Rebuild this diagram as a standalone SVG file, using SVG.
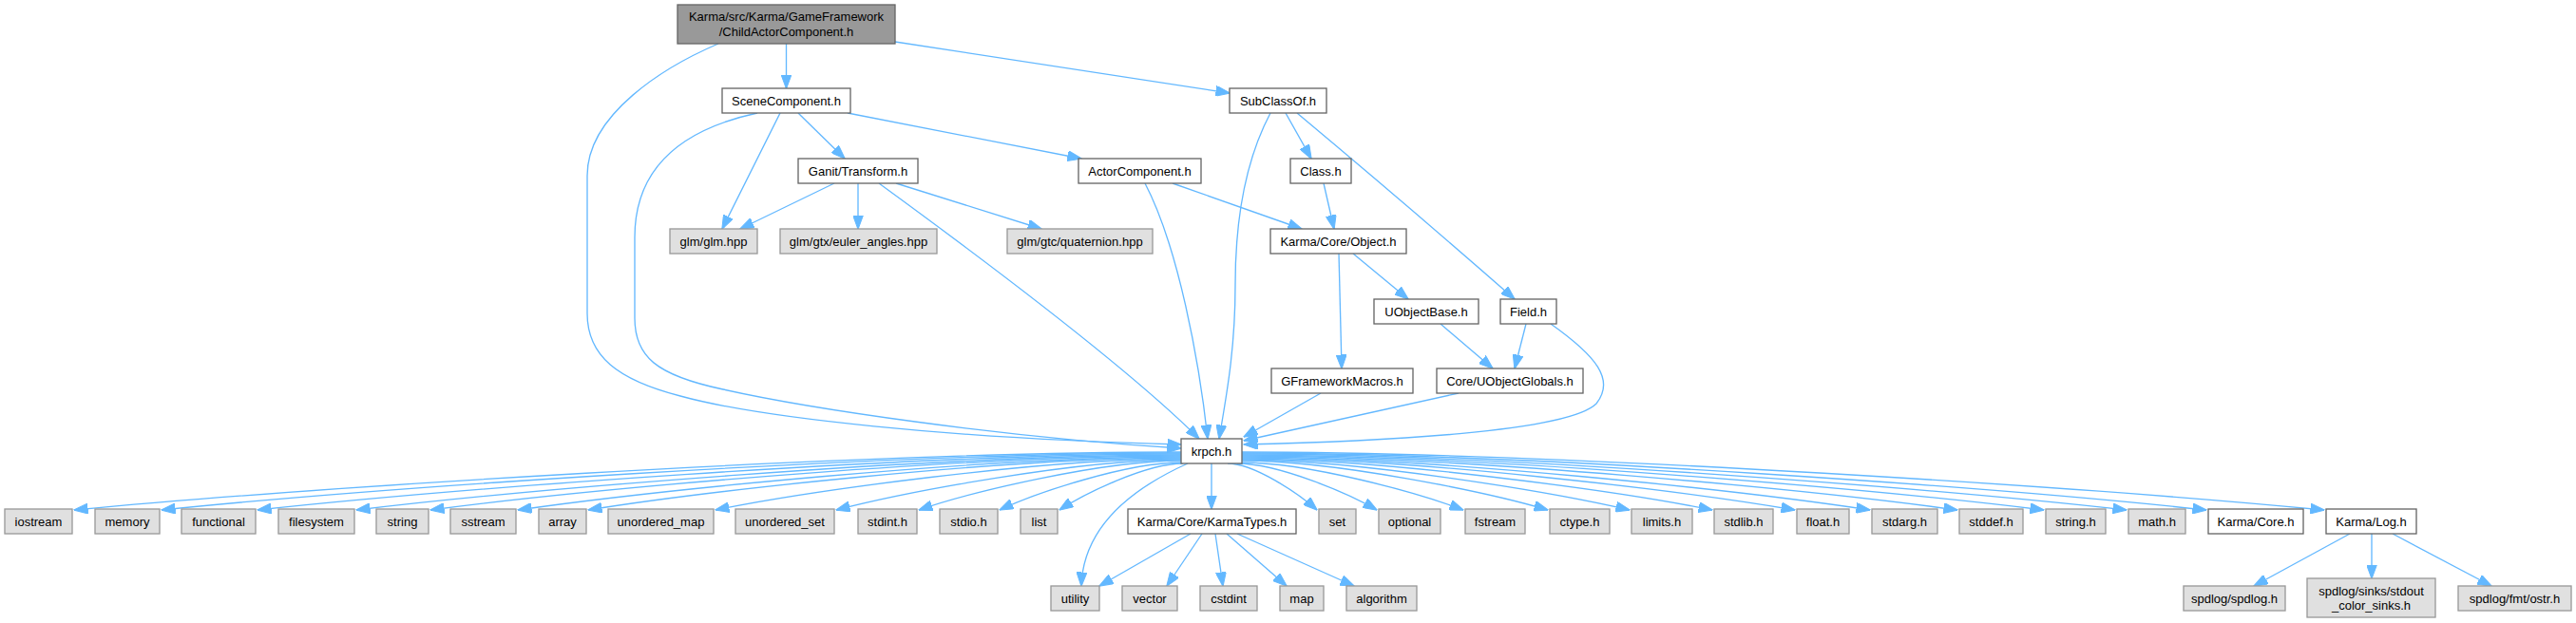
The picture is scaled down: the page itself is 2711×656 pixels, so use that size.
<svg xmlns="http://www.w3.org/2000/svg" width="2711" height="656" viewBox="0 0 2711 656">
<style>
.n rect{fill:#ffffff;stroke:#666666;stroke-width:1.33}
.g rect{fill:#e0e0e0;stroke:#999999;stroke-width:1.33}
.r rect{fill:#999999;stroke:#666666;stroke-width:1.33}
text{font-family:"Liberation Sans",Arial,Helvetica,sans-serif;font-size:13px;fill:#000000;text-anchor:middle}
#edges path{fill:none;stroke:#63b8ff;stroke-width:1.33;marker-end:url(#ah)}
</style>
<defs>
<marker id="ah" markerUnits="userSpaceOnUse" markerWidth="15" markerHeight="11" viewBox="0 0 15 11" refX="14.5" refY="5.5" orient="auto">
<path d="M0,0 L15,5.5 L0,11 Z" fill="#63b8ff" stroke="#63b8ff" stroke-width="1"/>
</marker>
</defs>
<rect width="2711" height="656" fill="#ffffff"/>
<g id="edges">
<path d="M756,46 C700,70 618,120 618,185 L618,330 C618,375 650,400 716,417 C800,440 1000,462 1243,468"/>
<path d="M827.5,46 L827.5,93"/>
<path d="M942,44 L1294,98"/>
<path d="M821,119 L760,241"/>
<path d="M797,119 C700,140 668,190 668,250 L668,335 C668,375 690,395 761,410 C850,430 1050,460 1243,472"/>
<path d="M840,119 L889,167"/>
<path d="M892,119 L1138,167"/>
<path d="M878,193 L779,241"/>
<path d="M903,193 L903,241"/>
<path d="M943,193 L1096,241"/>
<path d="M925,193 C1010,255 1180,380 1262,462"/>
<path d="M1205,193 C1240,260 1262,380 1271,462"/>
<path d="M1234,193 L1370,241"/>
<path d="M1337,119 C1310,170 1300,230 1300,300 C1300,370 1290,420 1283,462"/>
<path d="M1353,119 L1380,167"/>
<path d="M1365,119 C1420,165 1520,250 1594,315"/>
<path d="M1393,193 L1404,241"/>
<path d="M1409,267 L1412,388"/>
<path d="M1424,267 L1482,315"/>
<path d="M1516,341 L1571,388"/>
<path d="M1606,341 L1594,388"/>
<path d="M1632,341 C1680,375 1700,400 1680,425 C1650,455 1450,465 1309,468"/>
<path d="M1390,414 L1309,460"/>
<path d="M1535,414 L1309,464"/>
<path d="M1243,476 C893,476 311,515 78,537"/>
<path d="M1243,477 C921,477 385,515 170,537"/>
<path d="M1243,478 C951,478 465,516 271,537"/>
<path d="M1243,479 C983,479 549,516 375,537"/>
<path d="M1243,480 C1006,480 611,516 453,537"/>
<path d="M1243,481 C1034,481 685,517 545,537"/>
<path d="M1243,482 C1056,482 744,517 619,537"/>
<path d="M1243,483 C1096,483 851,517 753,537"/>
<path d="M1243,484 C1134,484 953,518 880,537"/>
<path d="M1243,485 C1160,485 1022,518 967,537"/>
<path d="M1243,487 C1186,487 1090,519 1052,537"/>
<path d="M1245,488 C1206,488 1141,520 1115,537"/>
<path d="M1250,488 C1190,515 1140,555 1138,617"/>
<path d="M1275,488 L1275,536"/>
<path d="M1292,488 C1320,488 1367,520 1386,537"/>
<path d="M1302,488 C1346,488 1420,520 1449,537"/>
<path d="M1307,487 C1377,487 1493,519 1540,537"/>
<path d="M1307,485 C1404,485 1565,518 1629,537"/>
<path d="M1307,484 C1429,484 1633,518 1715,537"/>
<path d="M1307,483 C1455,483 1703,517 1802,537"/>
<path d="M1307,482 C1482,482 1773,517 1889,537"/>
<path d="M1307,481 C1505,481 1836,517 1968,537"/>
<path d="M1307,480 C1533,480 1909,516 2060,537"/>
<path d="M1307,479 C1560,479 1982,516 2151,537"/>
<path d="M1307,478 C1586,478 2052,516 2238,537"/>
<path d="M1307,477 C1612,477 2119,515 2322,537"/>
<path d="M1307,476 C1649,476 2218,515 2446,537"/>
<path d="M1253,562 L1157,617"/>
<path d="M1265,562 L1228,617"/>
<path d="M1279,562 L1287,617"/>
<path d="M1291,562 L1354,617"/>
<path d="M1302,562 L1425,617"/>
<path d="M2473,562 L2372,617"/>
<path d="M2496,562 L2496,609"/>
<path d="M2518,562 L2622,617"/>
</g>
<g id="node0" class="r"><rect x="713" y="5" width="229" height="41"/><text x="827.5" y="22">Karma/src/Karma/GameFramework</text><text x="827.5" y="37.5">/ChildActorComponent.h</text></g>
<g id="node1" class="n"><rect x="760" y="93" width="135" height="26"/><text x="827.5" y="110.5">SceneComponent.h</text></g>
<g id="node2" class="n"><rect x="1294" y="93" width="102" height="26"/><text x="1345" y="110.5">SubClassOf.h</text></g>
<g id="node3" class="n"><rect x="840" y="167" width="126" height="26"/><text x="903" y="184.5">Ganit/Transform.h</text></g>
<g id="node4" class="n"><rect x="1135" y="167" width="129" height="26"/><text x="1199.5" y="184.5">ActorComponent.h</text></g>
<g id="node5" class="n"><rect x="1358" y="167" width="64" height="26"/><text x="1390" y="184.5">Class.h</text></g>
<g id="node6" class="g"><rect x="705" y="241" width="92" height="26"/><text x="751" y="258.5">glm/glm.hpp</text></g>
<g id="node7" class="g"><rect x="821" y="241" width="165" height="26"/><text x="903.5" y="258.5">glm/gtx/euler_angles.hpp</text></g>
<g id="node8" class="g"><rect x="1060" y="241" width="153" height="26"/><text x="1136.5" y="258.5">glm/gtc/quaternion.hpp</text></g>
<g id="node9" class="n"><rect x="1337" y="241" width="143" height="26"/><text x="1408.5" y="258.5">Karma/Core/Object.h</text></g>
<g id="node10" class="n"><rect x="1446" y="315" width="110" height="26"/><text x="1501" y="332.5">UObjectBase.h</text></g>
<g id="node11" class="n"><rect x="1579" y="315" width="59" height="26"/><text x="1608.5" y="332.5">Field.h</text></g>
<g id="node12" class="n"><rect x="1338" y="388" width="149" height="26"/><text x="1412.5" y="405.5">GFrameworkMacros.h</text></g>
<g id="node13" class="n"><rect x="1512" y="388" width="154" height="26"/><text x="1589" y="405.5">Core/UObjectGlobals.h</text></g>
<g id="node14" class="n"><rect x="1243" y="462" width="64" height="26"/><text x="1275" y="479.5">krpch.h</text></g>
<g id="node15" class="g"><rect x="5" y="536" width="71" height="26"/><text x="40.5" y="553.5">iostream</text></g>
<g id="node16" class="g"><rect x="100" y="536" width="68" height="26"/><text x="134" y="553.5">memory</text></g>
<g id="node17" class="g"><rect x="191" y="536" width="78" height="26"/><text x="230" y="553.5">functional</text></g>
<g id="node18" class="g"><rect x="293" y="536" width="80" height="26"/><text x="333" y="553.5">filesystem</text></g>
<g id="node19" class="g"><rect x="396" y="536" width="55" height="26"/><text x="423.5" y="553.5">string</text></g>
<g id="node20" class="g"><rect x="474" y="536" width="69" height="26"/><text x="508.5" y="553.5">sstream</text></g>
<g id="node21" class="g"><rect x="567" y="536" width="50" height="26"/><text x="592" y="553.5">array</text></g>
<g id="node22" class="g"><rect x="640" y="536" width="111" height="26"/><text x="695.5" y="553.5">unordered_map</text></g>
<g id="node23" class="g"><rect x="774" y="536" width="104" height="26"/><text x="826" y="553.5">unordered_set</text></g>
<g id="node24" class="g"><rect x="903" y="536" width="62" height="26"/><text x="934" y="553.5">stdint.h</text></g>
<g id="node25" class="g"><rect x="989" y="536" width="61" height="26"/><text x="1019.5" y="553.5">stdio.h</text></g>
<g id="node26" class="g"><rect x="1074" y="536" width="39" height="26"/><text x="1093.5" y="553.5">list</text></g>
<g id="node27" class="n"><rect x="1187" y="536" width="177" height="26"/><text x="1275.5" y="553.5">Karma/Core/KarmaTypes.h</text></g>
<g id="node28" class="g"><rect x="1388" y="536" width="39" height="26"/><text x="1407.5" y="553.5">set</text></g>
<g id="node29" class="g"><rect x="1451" y="536" width="65" height="26"/><text x="1483.5" y="553.5">optional</text></g>
<g id="node30" class="g"><rect x="1542" y="536" width="63" height="26"/><text x="1573.5" y="553.5">fstream</text></g>
<g id="node31" class="g"><rect x="1631" y="536" width="63" height="26"/><text x="1662.5" y="553.5">ctype.h</text></g>
<g id="node32" class="g"><rect x="1717" y="536" width="64" height="26"/><text x="1749" y="553.5">limits.h</text></g>
<g id="node33" class="g"><rect x="1804" y="536" width="62" height="26"/><text x="1835" y="553.5">stdlib.h</text></g>
<g id="node34" class="g"><rect x="1891" y="536" width="55" height="26"/><text x="1918.5" y="553.5">float.h</text></g>
<g id="node35" class="g"><rect x="1970" y="536" width="69" height="26"/><text x="2004.5" y="553.5">stdarg.h</text></g>
<g id="node36" class="g"><rect x="2062" y="536" width="67" height="26"/><text x="2095.5" y="553.5">stddef.h</text></g>
<g id="node37" class="g"><rect x="2153" y="536" width="63" height="26"/><text x="2184.5" y="553.5">string.h</text></g>
<g id="node38" class="g"><rect x="2240" y="536" width="60" height="26"/><text x="2270" y="553.5">math.h</text></g>
<g id="node39" class="n"><rect x="2324" y="536" width="100" height="26"/><text x="2374" y="553.5">Karma/Core.h</text></g>
<g id="node40" class="n"><rect x="2448" y="536" width="95" height="26"/><text x="2495.5" y="553.5">Karma/Log.h</text></g>
<g id="node41" class="g"><rect x="1106" y="617" width="51" height="26"/><text x="1131.5" y="634.5">utility</text></g>
<g id="node42" class="g"><rect x="1181" y="617" width="58" height="26"/><text x="1210" y="634.5">vector</text></g>
<g id="node43" class="g"><rect x="1263" y="617" width="60" height="26"/><text x="1293" y="634.5">cstdint</text></g>
<g id="node44" class="g"><rect x="1347" y="617" width="46" height="26"/><text x="1370" y="634.5">map</text></g>
<g id="node45" class="g"><rect x="1417" y="617" width="74" height="26"/><text x="1454" y="634.5">algorithm</text></g>
<g id="node46" class="g"><rect x="2298" y="617" width="107" height="26"/><text x="2351.5" y="634.5">spdlog/spdlog.h</text></g>
<g id="node47" class="g"><rect x="2428" y="609" width="135" height="41"/><text x="2495.5" y="626.5">spdlog/sinks/stdout</text><text x="2495.5" y="641.5">_color_sinks.h</text></g>
<g id="node48" class="g"><rect x="2587" y="617" width="119" height="26"/><text x="2646.5" y="634.5">spdlog/fmt/ostr.h</text></g>
</svg>
